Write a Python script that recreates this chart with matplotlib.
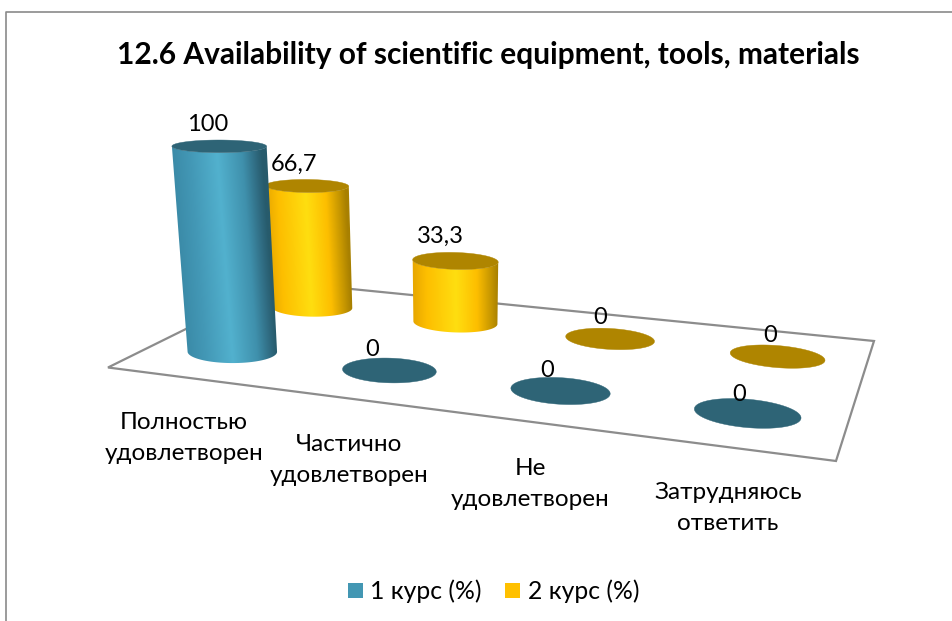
import numpy as np
import matplotlib
matplotlib.use("Agg")
import matplotlib.pyplot as plt
from matplotlib.colors import LinearSegmentedColormap
from matplotlib.patches import Polygon, Rectangle
from matplotlib.transforms import Affine2D

# ---- data ----
title = "12.6 Availability of scientific equipment, tools, materials"
categories = ["Полностью\nудовлетворен", "Частично\nудовлетворен", "Не\nудовлетворен", "Затрудняюсь\nответить"]
series_names = ["1 курс (%)", "2 курс (%)"]
course_1 = [100, 0, 0, 0]
course_2 = [66.7, 33.3, 0, 0]
labels_1 = ["100", "0", "0", "0"]
labels_2 = ["66,7", "33,3", "0", "0"]

# ---- layout ----
W, H = 953, 621
FONT = ["Lato", "Open Sans", "DejaVu Sans"]
plt.rcParams["font.family"] = FONT
fig = plt.figure(figsize=(W / 100, H / 100), dpi=100)
ax = fig.add_axes([0, 0, 1, 1])
ax.set_xlim(0, W)
ax.set_ylim(H, 0)
ax.axis("off")

# floor: (category coordinate 0..4, depth 0..2) -> canvas
src = np.array([[0, 0], [4, 0], [4, 2], [0, 2]], float)
dst = np.array([[108, 367.5], [836, 461], [874, 341], [281, 282]], float)
A = []
for (u, v), (x, y) in zip(src, dst):
    A.append([u, v, 1, 0, 0, 0, -x * u, -x * v, -x])
    A.append([0, 0, 0, u, v, 1, -y * u, -y * v, -y])
M = np.linalg.svd(np.array(A))[2][-1].reshape(3, 3)
M = M / (M @ np.array([0.5, 0.5, 1]))[2]
VP = np.array([453.0, 3830.0, 1.0])   # vanishing point of the vertical
Z_K = -0.0557 / 100


def project(u, v, z=0.0):
    p = M @ np.array([u, v, 1.0]) + z * Z_K * VP
    return p[0] / p[2], p[1] / p[2]


RU, RV = 0.27, 0.21
TH = np.linspace(0, 2 * np.pi, 361)


def ring(uc, vc, z):
    return np.array([project(uc + RU * np.cos(t), vc + RV * np.sin(t), z) for t in TH[:-1]])


def cylinder(uc, vc, value, cmap, top, zo):
    bottom = ring(uc, vc, 0)
    upper = ring(uc, vc, value)
    if value > 0:
        il, ir = bottom[:, 0].argmin(), bottom[:, 0].argmax()
        n = len(bottom)
        a, path = il, [il]
        while a != ir:
            a = (a + 1) % n
            path.append(a)
        b, other = il, [il]
        while b != ir:
            b = (b - 1) % n
            other.append(b)
        if bottom[path, 1].mean() < bottom[other, 1].mean():
            path = other
        outline = np.vstack([bottom[path], upper[path][::-1]])
        p0, p1, q = bottom[il], bottom[ir], upper[il]
        aff = Affine2D(np.array([[p1[0] - p0[0], q[0] - p0[0], p0[0]],
                                 [p1[1] - p0[1], q[1] - p0[1], p0[1]],
                                 [0, 0, 1]]))
        # gradient runs a little past both edges so the clip outline never sees the image border
        sx = np.clip(np.linspace(-0.2, 1.2, 700), 0, 1)
        grad = cmap(sx)[None, :, :3]
        im = ax.imshow(grad, extent=(-0.2, 1.2, -0.5, 1.5), origin="lower", aspect="auto",
                       interpolation="bilinear", transform=aff + ax.transData, zorder=zo)
        clip = Polygon(outline, closed=True, transform=ax.transData)
        im.set_clip_path(clip)
    ax.add_patch(Polygon(upper, closed=True, fc=top, ec=top, lw=0.3, zorder=zo + 0.1))
    return project(uc, vc, value)


# frame
ax.plot([6, 6, W], [H, 12, 12], color="#8a8a8a", lw=1.2, zorder=1)
# floor outline
ax.add_patch(Polygon(dst, closed=True, fc="white", ec="#8c8c8c", lw=1.6, zorder=2))

blue = LinearSegmentedColormap.from_list("b", [(0, "#3B8BA8"), (0.2, "#4398B6"), (0.5, "#52B1CE"),
                                                (0.78, "#3F90AC"), (0.93, "#2F6A80"), (1, "#275B6C")])
gold = LinearSegmentedColormap.from_list("g", [(0, "#E8A800"), (0.15, "#FDBE00"), (0.5, "#FFDE10"),
                                                (0.75, "#FDBE00"), (0.92, "#C49500"), (1, "#A88000")])
BLUE_TOP, GOLD_TOP = "#2E6476", "#AF8500"

# label offsets from the top centre of each cylinder (canvas px)
dx_back, dy_back = [-13, -15, -10, -7], [-21.5, -24, -21, -21]
dx_front, dy_front = [-12, -17, -13, -8], [-22, -21, -20, -18]

# back row first, then front row, so the front row overlaps it
label_pts = []
zo = 3
for vc, vals, texts, cm, tp, dxs, dys in ((1.5, course_2, labels_2, gold, GOLD_TOP, dx_back, dy_back),
                                          (0.5, course_1, labels_1, blue, BLUE_TOP, dx_front, dy_front)):
    for i, (val, tx) in enumerate(zip(vals, texts)):
        cx, cy = cylinder(i + 0.5, vc, val, cm, tp, zo)
        zo += 0.2
        label_pts.append((cx + dxs[i], cy + dys[i], tx))
for x, y, tx in label_pts:
    ax.text(x, y, tx, fontsize=17, ha="center", va="center", color="black", zorder=8)

# category labels
cat_xy = [(184, 438), (349, 460), (530, 484), (728, 508)]
for (x, y), c in zip(cat_xy, categories):
    ax.text(x, y, c, fontsize=17.5, ha="center", va="center", linespacing=1.58, color="black", zorder=8)

ax.text(488, 55, title, fontsize=21.5, fontweight="bold", ha="center", va="center", color="black", zorder=8)

# legend
ax.add_patch(Rectangle((348, 583), 15, 15, fc="#4397B3", ec="none", zorder=8))
ax.text(370, 591, series_names[0], fontsize=17.8, ha="left", va="center", zorder=8)
ax.add_patch(Rectangle((505, 583), 15, 15, fc="#FFC000", ec="none", zorder=8))
ax.text(528, 591, series_names[1], fontsize=17.8, ha="left", va="center", zorder=8)

ax.set_xlim(0, W)
ax.set_ylim(H, 0)
fig.savefig("out.png", dpi=100, facecolor="white")
